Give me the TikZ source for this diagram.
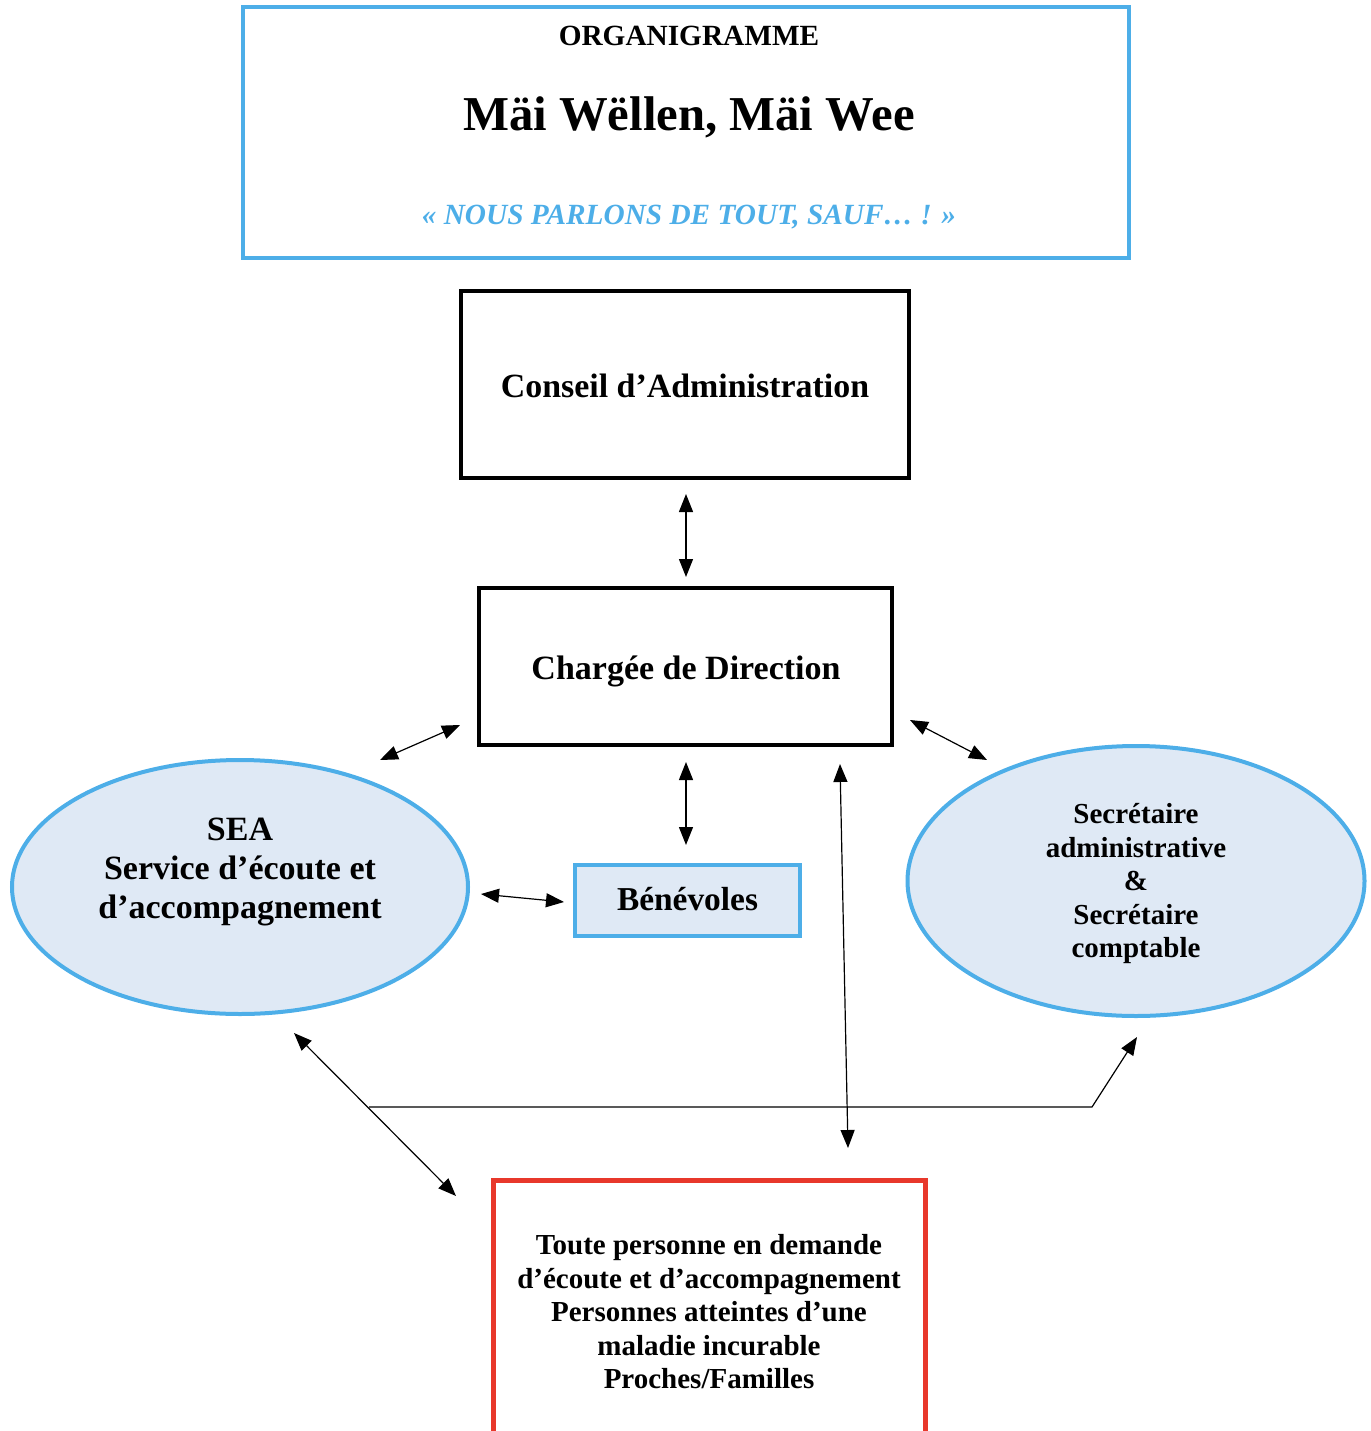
\documentclass[tikz,border=0pt]{standalone}
\usepackage{fontspec}
\setmainfont{Liberation Serif}
\usetikzlibrary{arrows.meta,shapes.geometric}
\definecolor{cblue}{HTML}{4DAEE8}
\definecolor{cfill}{HTML}{DFE9F5}
\definecolor{cred}{HTML}{E8382B}
\begin{document}
\begin{tikzpicture}[x=1pt,y=-1pt,
  txt/.style={font=\bfseries, align=center, inner sep=0pt},
  blackbox/.style={draw=black, line width=4pt, inner sep=0pt},
  bluebox/.style={draw=cblue, fill=cfill, line width=4pt, inner sep=0pt},
  blueell/.style={ellipse, draw=cblue, fill=cfill, line width=4pt, inner sep=0pt},
  arr/.style={line width=1.2pt, {Triangle[length=18pt,width=14pt]}-{Triangle[length=18pt,width=14pt]}},
  arrend/.style={line width=1.2pt, -{Triangle[length=18pt,width=14pt]}}]
\useasboundingbox (0,0) rectangle (1370,1431);
\clip (0,0) rectangle (1370,1431);

% title
\node[draw=cblue, line width=4pt, minimum width=886pt, minimum height=251pt, inner sep=0pt] (title) at (686,132.5) {};
\node[txt, anchor=base, font=\bfseries\fontsize{29.3}{32}\selectfont] (org) at (689,46) {ORGANIGRAMME};
\node[txt, anchor=base, font=\bfseries\fontsize{48.7}{52}\selectfont] (name) at (689,131) {Mäi Wëllen, Mäi Wee};
\node[txt, anchor=base, text=cblue, font=\bfseries\itshape\fontsize{29.3}{32}\selectfont] (slogan) at (689,225) {« NOUS PARLONS DE TOUT, SAUF… ! »};

% boxes
\node[blackbox, minimum width=448pt, minimum height=187pt] (ca) at (685,384.5) {};
\node[txt, anchor=base, font=\bfseries\fontsize{33.9}{38}\selectfont] (catxt) at (685,397) {Conseil d’Administration};

\node[blackbox, minimum width=413pt, minimum height=157pt] (cd) at (685.5,666.5) {};
\node[txt, anchor=base, font=\bfseries\fontsize{34}{38}\selectfont] (cdtxt) at (686,679) {Chargée de Direction};

\node[bluebox, minimum width=225pt, minimum height=71pt] (ben) at (687.5,900.5) {};
\node[txt, anchor=base, font=\bfseries\fontsize{33.4}{38}\selectfont] (bentxt) at (687.5,910) {Bénévoles};

\node[blueell, minimum width=456pt, minimum height=254pt] (sea) at (240,887) {};
\node[txt, font=\bfseries\fontsize{34}{39}\selectfont] (seatxt) at (240,872) {SEA\\Service d’écoute et\\d’accompagnement};

\node[blueell, minimum width=457pt, minimum height=270pt] (sec) at (1136,881) {};
\node[txt, font=\bfseries\fontsize{29}{33.5}\selectfont] (sectxt) at (1136,884) {Secrétaire\\administrative\\\&\\Secrétaire\\comptable};

\draw[cred, line width=5pt] (493,1460) -- (493,1180) -- (925,1180) -- (925,1460);
\node[inner sep=0pt, minimum width=432pt, minimum height=260pt] (pub) at (709,1310) {};
\node[txt, font=\bfseries\fontsize{29}{33.5}\selectfont] (pubtxt) at (709,1312) {Toute personne en demande\\d’écoute et d’accompagnement\\Personnes atteintes d’une\\maladie incurable\\Proches/Familles};

% connector end points
\coordinate (a1) at (686,494); \coordinate (a2) at (686,577);
\coordinate (b1) at (380,760); \coordinate (b2) at (460,725);
\coordinate (c1) at (910,720); \coordinate (c2) at (987,760);
\coordinate (d1) at (686,762); \coordinate (d2) at (686,845);
\coordinate (e1) at (481,894); \coordinate (e2) at (564,902);
\coordinate (f1) at (840,764); \coordinate (f2) at (848,1148);
\coordinate (g1) at (294,1033); \coordinate (g2) at (456,1196);
\coordinate (h1) at (369,1107); \coordinate (h2) at (1092,1107); \coordinate (h3) at (1137,1037);

\draw[arr] (a1) -- (a2);
\draw[arr] (b1) -- (b2);
\draw[arr] (c1) -- (c2);
\draw[arr] (d1) -- (d2);
\draw[arr] (e1) -- (e2);
\draw[arr] (f1) -- (f2);
\draw[arr] (g1) -- (g2);
\draw[arrend] (h1) -- (h2) -- (h3);
\end{tikzpicture}
\end{document}
